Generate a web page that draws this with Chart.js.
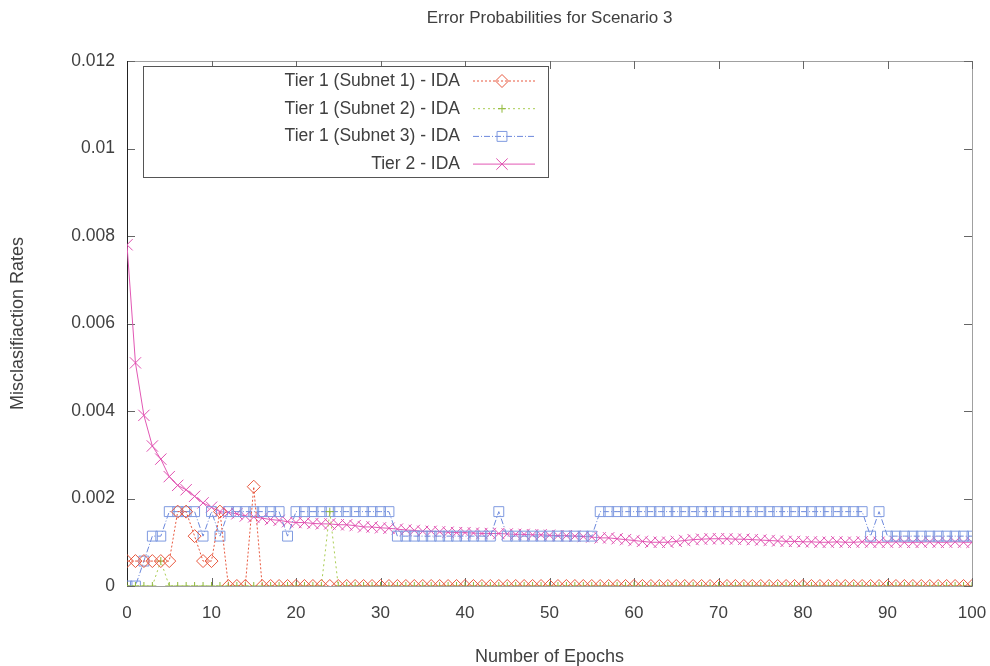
<!DOCTYPE html>
<html lang="en">
<head>
  <meta charset="UTF-8">
  <title>Error Probabilities for Scenario 3</title>
  <script src="https://cdn.jsdelivr.net/npm/chart.js"></script>
  <style>
    body {
      margin: 0;
      background: #fff;
    }
    #wrap {
      width: 990px;
      height: 666px;
    }
  </style>
</head>
<body>
  <div id="wrap"><canvas id="chart" width="990" height="666"></canvas></div>

  <script>
    // ---------------- data ---------------- //
    const epochs = [
      0, 1, 2, 3, 4, 5, 6, 7, 8, 9, 10, 11, 12, 13, 14, 15, 16, 17, 18, 19,
      20, 21, 22, 23, 24, 25, 26, 27, 28, 29, 30, 31, 32, 33, 34, 35, 36, 37, 38, 39,
      40, 41, 42, 43, 44, 45, 46, 47, 48, 49, 50, 51, 52, 53, 54, 55, 56, 57, 58, 59,
      60, 61, 62, 63, 64, 65, 66, 67, 68, 69, 70, 71, 72, 73, 74, 75, 76, 77, 78, 79,
      80, 81, 82, 83, 84, 85, 86, 87, 88, 89, 90, 91, 92, 93, 94, 95, 96, 97, 98, 99, 100
    ];

    const subnet1 = [
      0.00057, 0.00057, 0.00057, 0.00057, 0.00057, 0.00057, 0.0017, 0.0017, 0.00114, 0.00057,
      0.00057, 0.0017, 0, 0, 0, 0.00227, 0, 0, 0, 0,
      0, 0, 0, 0, 0, 0, 0, 0, 0, 0,
      0, 0, 0, 0, 0, 0, 0, 0, 0, 0,
      0, 0, 0, 0, 0, 0, 0, 0, 0, 0,
      0, 0, 0, 0, 0, 0, 0, 0, 0, 0,
      0, 0, 0, 0, 0, 0, 0, 0, 0, 0,
      0, 0, 0, 0, 0, 0, 0, 0, 0, 0,
      0, 0, 0, 0, 0, 0, 0, 0, 0, 0,
      0, 0, 0, 0, 0, 0, 0, 0, 0, 0,
      0
    ];

    const subnet2 = [
      0, 0, 0, 0, 0.00057, 0, 0, 0, 0, 0,
      0, 0, 0, 0, 0, 0, 0, 0, 0, 0,
      0, 0, 0, 0, 0.0017, 0, 0, 0, 0, 0,
      0, 0, 0, 0, 0, 0, 0, 0, 0, 0,
      0, 0, 0, 0, 0, 0, 0, 0, 0, 0,
      0, 0, 0, 0, 0, 0, 0, 0, 0, 0,
      0, 0, 0, 0, 0, 0, 0, 0, 0, 0,
      0, 0, 0, 0, 0, 0, 0, 0, 0, 0,
      0, 0, 0, 0, 0, 0, 0, 0, 0, 0,
      0, 0, 0, 0, 0, 0, 0, 0, 0, 0,
      0
    ];

    const subnet3 = [
      0, 0, 0.00057, 0.00114, 0.00114, 0.0017, 0.0017, 0.0017, 0.0017, 0.00114,
      0.0017, 0.00114, 0.0017, 0.0017, 0.0017, 0.0017, 0.0017, 0.0017, 0.0017, 0.00114,
      0.0017, 0.0017, 0.0017, 0.0017, 0.0017, 0.0017, 0.0017, 0.0017, 0.0017, 0.0017,
      0.0017, 0.0017, 0.00114, 0.00114, 0.00114, 0.00114, 0.00114, 0.00114, 0.00114, 0.00114,
      0.00114, 0.00114, 0.00114, 0.00114, 0.0017, 0.00114, 0.00114, 0.00114, 0.00114, 0.00114,
      0.00114, 0.00114, 0.00114, 0.00114, 0.00114, 0.00114, 0.0017, 0.0017, 0.0017, 0.0017,
      0.0017, 0.0017, 0.0017, 0.0017, 0.0017, 0.0017, 0.0017, 0.0017, 0.0017, 0.0017,
      0.0017, 0.0017, 0.0017, 0.0017, 0.0017, 0.0017, 0.0017, 0.0017, 0.0017, 0.0017,
      0.0017, 0.0017, 0.0017, 0.0017, 0.0017, 0.0017, 0.0017, 0.0017, 0.00114, 0.0017,
      0.00114, 0.00114, 0.00114, 0.00114, 0.00114, 0.00114, 0.00114, 0.00114, 0.00114, 0.00114,
      0.00114
    ];

    const tier2 = [
      0.0078, 0.0051, 0.0039, 0.0032, 0.0029, 0.0025, 0.0023, 0.0022, 0.00205, 0.0019,
      0.0018, 0.0017, 0.00168, 0.00165, 0.0016, 0.00158, 0.00155, 0.00152, 0.0015, 0.00147,
      0.00145, 0.00145, 0.00143, 0.00142, 0.00142, 0.0014, 0.0014, 0.00138, 0.00135, 0.00135,
      0.00133, 0.00132, 0.0013, 0.00128, 0.00127, 0.00125, 0.00125, 0.00124, 0.00123, 0.00122,
      0.00122, 0.00121, 0.0012, 0.0012, 0.0012, 0.00119, 0.00118, 0.00118, 0.00117, 0.00117,
      0.00116, 0.00115, 0.00115, 0.00114, 0.00113, 0.00112, 0.0011, 0.0011, 0.00108, 0.00106,
      0.00104, 0.00102, 0.001, 0.001, 0.001, 0.00102, 0.00104, 0.00106, 0.00107, 0.00108,
      0.00108, 0.00108, 0.00107, 0.00107, 0.00106, 0.00105, 0.00104, 0.00103, 0.00102, 0.00102,
      0.00101, 0.00101, 0.001, 0.001, 0.00101, 0.001, 0.001, 0.00101, 0.001, 0.001,
      0.001, 0.00101, 0.001, 0.001, 0.001, 0.00101, 0.001, 0.001, 0.00101, 0.001,
      0.001
    ];

    const seriesLabels = [
      'Tier 1 (Subnet 1) - IDA',
      'Tier 1 (Subnet 2) - IDA',
      'Tier 1 (Subnet 3) - IDA',
      'Tier 2 - IDA'
    ];

    const yTicks = [0, 0.002, 0.004, 0.006, 0.008, 0.01, 0.012];
    const xTicks = [0, 10, 20, 30, 40, 50, 60, 70, 80, 90, 100];

    // ---------------- helpers ---------------- //
    const FONT = '"Liberation Sans", Arial, sans-serif';
    const TEXT = '#404040';

    function pts(values) {
      return values.map((v, i) => ({ x: epochs[i], y: v }));
    }

    function drawMarker(ctx, style, x, y, r) {
      ctx.beginPath();
      if (style === 'rectRot') {
        ctx.moveTo(x, y - r); ctx.lineTo(x + r, y); ctx.lineTo(x, y + r); ctx.lineTo(x - r, y); ctx.closePath();
      } else if (style === 'rect') {
        const s = r * Math.SQRT1_2;
        ctx.rect(x - s, y - s, s * 2, s * 2);
      } else if (style === 'cross') {
        ctx.moveTo(x, y - r); ctx.lineTo(x, y + r); ctx.moveTo(x - r, y); ctx.lineTo(x + r, y);
      } else {
        const s = r * Math.SQRT1_2;
        ctx.moveTo(x - s, y - s); ctx.lineTo(x + s, y + s); ctx.moveTo(x + s, y - s); ctx.lineTo(x - s, y + s);
      }
      ctx.stroke();
    }

    // frame with inward ticks, gnuplot style
    const framePlugin = {
      id: 'framePlugin',
      beforeDatasetsDraw(chart) {
        const { ctx, chartArea: a, scales } = chart;
        ctx.save();
        ctx.lineWidth = 1;
        ctx.strokeStyle = '#a0a0a0';
        ctx.strokeRect(a.left + 0.5, a.top + 0.5, a.right - a.left, a.bottom - a.top);
        ctx.strokeStyle = '#666';
        ctx.beginPath();
        yTicks.forEach(v => {
          const y = Math.round(scales.y.getPixelForValue(v)) + 0.5;
          ctx.moveTo(a.left, y); ctx.lineTo(a.left + 8, y);
          ctx.moveTo(a.right, y); ctx.lineTo(a.right - 8, y);
        });
        xTicks.forEach(v => {
          const x = Math.round(scales.x.getPixelForValue(v)) + 0.5;
          ctx.moveTo(x, a.bottom); ctx.lineTo(x, a.bottom - 8);
          ctx.moveTo(x, a.top); ctx.lineTo(x, a.top + 8);
        });
        ctx.stroke();
        ctx.strokeStyle = '#222';
        ctx.beginPath();
        ctx.moveTo(a.left + 0.5, a.top); ctx.lineTo(a.left + 0.5, a.bottom);
        ctx.stroke();
        ctx.restore();
      }
    };

    // key box: text right aligned, sample to the right
    const keyPlugin = {
      id: 'keyPlugin',
      afterDatasetsDraw(chart) {
        const ctx = chart.ctx;
        const a = chart.chartArea;
        const left = a.left + 16, top = a.top + 5, w = 405, h = 111;
        ctx.save();
        ctx.fillStyle = '#fff';
        ctx.fillRect(left, top, w, h);
        ctx.strokeStyle = '#555';
        ctx.lineWidth = 1;
        ctx.strokeRect(left + 0.5, top + 0.5, w, h);
        ctx.font = '17.5px ' + FONT;
        ctx.textAlign = 'right';
        ctx.textBaseline = 'middle';
        chart.data.datasets.forEach((ds, i) => {
          const y = top + 15 + i * 27.7;
          ctx.fillStyle = TEXT;
          ctx.fillText(ds.label, left + 317, y);
          ctx.strokeStyle = ds.borderColor;
          ctx.lineWidth = 1;
          ctx.setLineDash(ds.borderDash || []);
          ctx.beginPath();
          ctx.moveTo(left + 330, y); ctx.lineTo(left + 392, y);
          ctx.stroke();
          ctx.setLineDash([]);
          ctx.strokeStyle = ds.pointBorderColor;
          drawMarker(ctx, ds.pointStyle, left + 359, y, ds.pointRadius);
        });
        ctx.restore();
      }
    };

    // ---------------- chart ---------------- //
    const ctx = document.getElementById('chart').getContext('2d');
    const chart = new Chart(ctx, {
      type: 'line',
      data: {
        datasets: [
          {
            label: seriesLabels[0],
            data: pts(subnet1),
            borderColor: '#e8583e',
            borderWidth: 1,
            borderDash: [2, 2],
            pointStyle: 'rectRot',
            pointRadius: 6.5,
            pointBorderWidth: 1,
            pointBorderColor: '#e8583e',
            pointBackgroundColor: 'rgba(0,0,0,0)',
            fill: false
          },
          {
            label: seriesLabels[1],
            data: pts(subnet2),
            borderColor: '#a8cc50',
            borderWidth: 1,
            borderDash: [2, 3],
            pointStyle: 'cross',
            pointRadius: 4,
            pointBorderWidth: 1,
            pointBorderColor: '#8fb838',
            pointBackgroundColor: 'rgba(0,0,0,0)',
            fill: false
          },
          {
            label: seriesLabels[2],
            data: pts(subnet3),
            borderColor: '#6c88dc',
            borderWidth: 1,
            borderDash: [6, 2, 1, 2],
            pointStyle: 'rect',
            pointRadius: 7,
            pointBorderWidth: 1,
            pointBorderColor: '#7f9ae0',
            pointBackgroundColor: 'rgba(0,0,0,0)',
            fill: false
          },
          {
            label: seriesLabels[3],
            data: pts(tier2),
            borderColor: '#e258b4',
            borderWidth: 1,
            pointStyle: 'crossRot',
            pointRadius: 8,
            pointBorderWidth: 1,
            pointBorderColor: '#e050b0',
            pointBackgroundColor: 'rgba(0,0,0,0)',
            fill: false
          }
        ]
      },
      options: {
        responsive: false,
        animation: false,
        layout: { padding: { left: 0, right: 18, top: 0, bottom: 0 } },
        plugins: {
          legend: { display: false },
          tooltip: { enabled: false },
          title: {
            display: true,
            text: 'Error Probabilities for Scenario 3',
            fullSize: false,
            color: TEXT,
            font: { family: FONT, size: 17, weight: 'normal' },
            padding: { top: 8, bottom: 32.6 }
          }
        },
        scales: {
          x: {
            type: 'linear',
            min: 0,
            max: 100,
            grid: { display: false, drawTicks: false },
            border: { display: false },
            ticks: {
              stepSize: 10,
              color: TEXT,
              padding: 17,
              font: { family: FONT, size: 17 }
            },
            title: {
              display: true,
              text: 'Number of Epochs',
              color: TEXT,
              font: { family: FONT, size: 18 },
              padding: { top: 0, bottom: -2 }
            },
            afterFit(scale) {
              scale.height = 80;
              scale.paddingLeft = 0;
              scale.paddingRight = 0;
            }
          },
          y: {
            min: 0,
            max: 0.012,
            grid: { display: false, drawTicks: false },
            border: { display: false },
            ticks: {
              stepSize: 0.002,
              color: TEXT,
              padding: 12,
              font: { family: FONT, size: 17.5 },
              callback: v => (Math.abs(v) < 1e-9 ? '0' : String(+v.toFixed(3)))
            },
            title: {
              display: true,
              text: 'Misclasifiaction Rates',
              color: TEXT,
              font: { family: FONT, size: 18 },
              padding: { top: 7, bottom: 0 }
            },
            afterFit(scale) {
              scale.width = 127;
              scale.paddingTop = 0;
              scale.paddingBottom = 0;
            }
          }
        }
      },
      plugins: [framePlugin, keyPlugin]
    });
  </script>
</body>
</html>
